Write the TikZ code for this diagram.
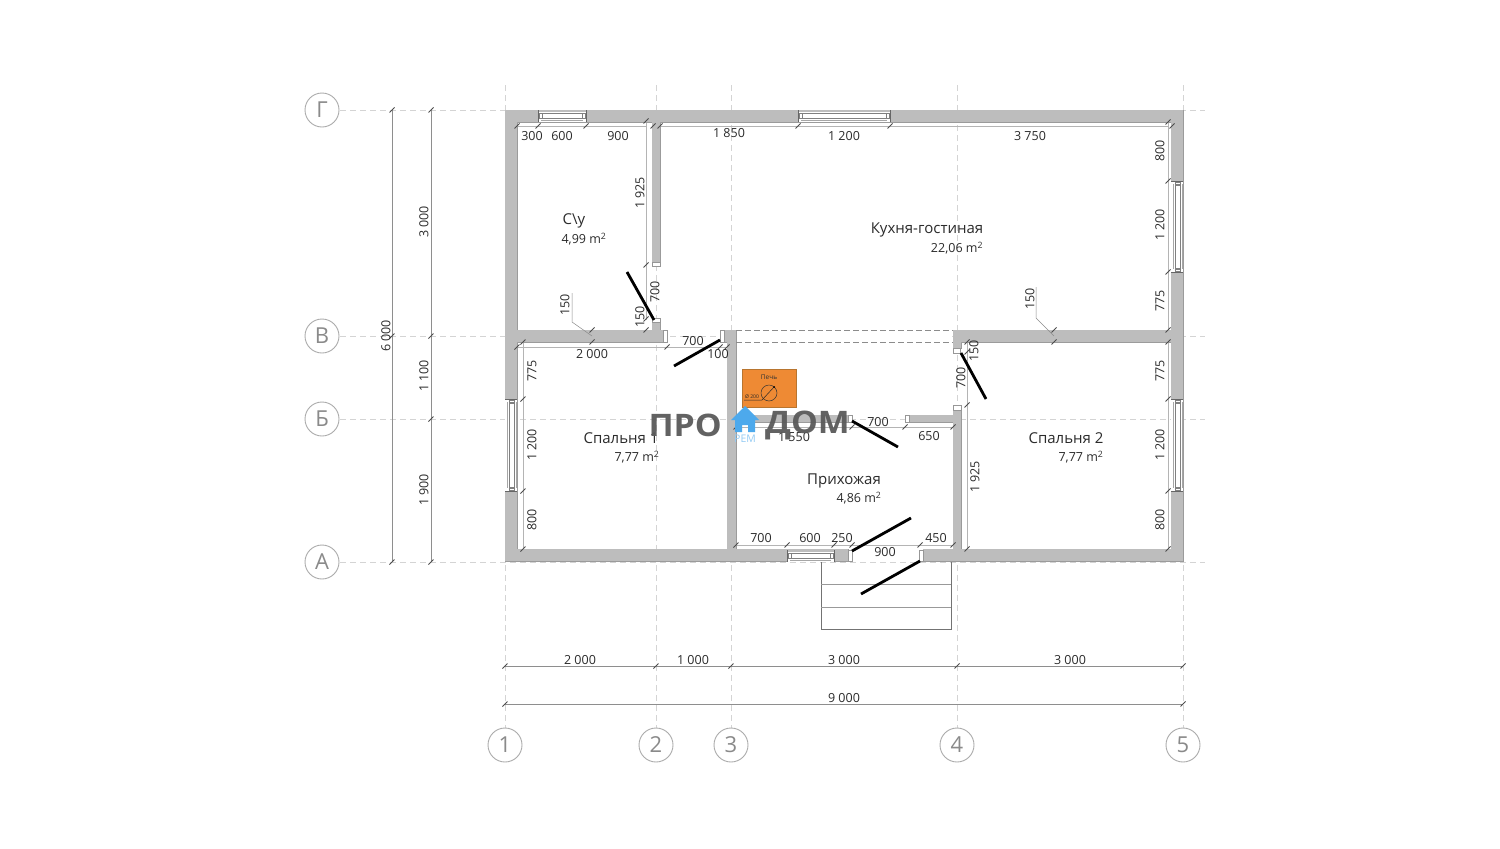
\documentclass[tikz,border=0pt]{standalone}
\usepackage{fontspec}
\setmainfont{Open Sans}
\definecolor{wallc}{HTML}{BDBDBD}
\definecolor{edgec}{HTML}{979797}
\definecolor{axisc}{HTML}{D4D4D4}
\definecolor{bubc}{HTML}{ABABAB}
\definecolor{bubt}{HTML}{8A8A8A}
\definecolor{dimc}{HTML}{8E8E8E}
\definecolor{indim}{HTML}{B4B4B4}
\definecolor{txt}{HTML}{2B2B2B}
\definecolor{ovenfill}{RGB}{238,138,52}
\definecolor{ovenedge}{RGB}{184,117,47}
\definecolor{wmgray}{HTML}{5A5A5A}
\definecolor{wmblue}{HTML}{4DA9EC}
\newcounter{nn}
\tikzset{
  axisline/.style={draw=axisc,line width=.7pt,dash pattern=on 6pt off 4pt},
  bubble/.style={circle,draw=bubc,line width=.9pt,minimum size=34pt,inner sep=0pt,text=bubt,font=\fontsize{22}{22}\selectfont},
  dimline/.style={draw=dimc,line width=.8pt},
  indimline/.style={draw=indim,line width=.8pt},
  tickmark/.style={draw=black!70,line width=.8pt},
  doorleaf/.style={draw=black,line width=2.8pt},
  dimtext/.style={text=txt,inner sep=0pt,font=\fontsize{12.5}{13}\selectfont},
  roomname/.style={text=txt,inner sep=0pt,font=\fontsize{15}{16}\selectfont},
  roomarea/.style={text=txt,inner sep=0pt,font=\fontsize{12.5}{13}\selectfont},
  jamb/.style={fill=white,draw=edgec,line width=.6pt},
  leader/.style={draw=black!45,line width=.5pt},
  winframe/.style={draw=black!50,line width=.6pt,fill=white},
  wmtext/.style={text=wmgray,inner sep=0pt,opacity=.95,xscale=1.09,font=\fontsize{31}{31}\selectfont\bfseries},
}
\newcommand{\tk}[2]{\draw[tickmark] (#1-2.5,#2+2.5) -- (#1+2.5,#2-2.5);}
\newcommand{\lbl}[3]{\stepcounter{nn}\node[dimtext,name=d\arabic{nn}] at (#1,#2) {#3};}
\newcommand{\lblr}[3]{\stepcounter{nn}\node[dimtext,rotate=90,name=d\arabic{nn}] at (#1,#2) {#3};}
\newcommand{\room}[3]{\stepcounter{nn}\node[roomname,name=d\arabic{nn}] at (#1,#2+1.5) {#3};}
\newcommand{\area}[3]{\stepcounter{nn}\node[roomarea,name=d\arabic{nn}] at (#1,#2+1) {#3 m\textsuperscript{2}};}
\newcommand{\winh}[3]{
  \fill[white] (#1,#3) rectangle (#2,#3+12);
  \fill[wallc] (#1,#3) rectangle (#2,#3+2);
  \draw[winframe] (#1+4,#3+3) rectangle (#2-4,#3+8);
  \draw[draw=black!35,line width=.5pt] (#1+3,#3+10) -- (#2-3,#3+10);
  \draw[draw=black!60,line width=1pt] (#1,#3) -- (#1,#3+12) (#2,#3) -- (#2,#3+12);
  \draw[draw=black!50,line width=.5pt] (#1+1,#3+3) rectangle (#1+4,#3+8) (#2-4,#3+3) rectangle (#2-1,#3+8);
}
\newcommand{\winv}[3]{
  \fill[white] (#1,#2) rectangle (#1+12,#3);
  \draw[winframe] (#1+4,#2+3) rectangle (#1+9,#3-3);
  \draw[draw=black!35,line width=.5pt] (#1+2,#2+3) -- (#1+2,#3-3) (#1+11,#2+3) -- (#1+11,#3-3);
  \draw[draw=black!60,line width=1pt] (#1,#2) -- (#1+12,#2) (#1,#3) -- (#1+12,#3);
  \draw[draw=black!50,line width=.5pt] (#1+4,#2+1) rectangle (#1+9,#2+4) (#1+4,#3-4) rectangle (#1+9,#3-1);
}
\newcommand{\wallshape}{
  (505,110) rectangle (1183,122)
  (505,110) rectangle (517,561)
  (1171,110) rectangle (1183,561)
  (505,549) rectangle (848,561)
  (923,549) rectangle (1183,561)
  (517,330) rectangle (663,342)
  (652,322) rectangle (660,331)
  (652,122) rectangle (660,262)
  (724,330) rectangle (736,342)
  (727,330) rectangle (736,549)
  (953,330) rectangle (1171,342)
  (953,330) rectangle (961,348)
  (953,410) rectangle (961,549)
  (736,415) rectangle (848,422)
  (909,415) rectangle (953,422)
}
\begin{document}
\begin{tikzpicture}[x=1pt,y=-1pt]
\useasboundingbox[fill=white] (0,0) rectangle (1500,849);
\foreach \x in {505,656,731,957,1183} \draw[axisline] (\x,85) -- (\x,728);
\foreach \y in {110,336,419,562} \draw[axisline] (340,\y) -- (1205,\y);
\node[bubble] (gG) at (322,110) {Г};
\node[bubble] (gV) at (322,336) {В};
\node[bubble] (gB) at (322,419) {Б};
\node[bubble] (gA) at (322,562) {А};
\node[bubble] (g1) at (505,745) {1};
\node[bubble] (g2) at (656,745) {2};
\node[bubble] (g3) at (731,745) {3};
\node[bubble] (g4) at (957,745) {4};
\node[bubble] (g5) at (1183,745) {5};
\draw[draw=black!55,line width=.7pt] (821,561) -- (821,629) -- (951,629) -- (951,561);
\draw[draw=black!40,line width=.6pt] (821,584) -- (951,584) (821,607) -- (951,607);
\draw[indimline] (517,126) -- (646,126) (660,126) -- (1168,126);
\draw[indimline] (646,122) -- (646,320);
\draw[indimline] (1168,122) -- (1168,330) (1168,342) -- (1168,549);
\draw[indimline] (523,342) -- (523,549);
\draw[indimline] (517,347) -- (727,347);
\draw[indimline] (736,545) -- (953,545);
\draw[indimline] (736,427) -- (953,427);
\draw[indimline] (967,342) -- (967,549);
\path[draw=edgec,line width=.8pt] \wallshape;
\path[fill=wallc] \wallshape;
\fill[white] (737,331) rectangle (952,341);
\draw[draw=black!45,line width=.7pt,dash pattern=on 6pt off 3pt] (736,330) -- (953,330) (736,342) -- (953,342);
\foreach \pa/\pb/\pc/\pd in {663/330/667/342, 720/330/724/342, 652/318/660/322, 652/262/660/266, 953/348/960/353, 953/405/961/410, 848/415/852/422, 905/415/909/422, 848/550/852/561, 919/550/923/561}
  \draw[jamb] (\pa,\pb) rectangle (\pc,\pd);
\winh{538}{586}{110}
\winh{798}{890}{110}
\winh{787}{834}{550}
\winv{505}{399}{491}
\winv{1171}{181}{272}
\winv{1171}{399}{491}
\coordinate (da1) at (627,272); \coordinate (da2) at (654,320);
\coordinate (db1) at (720,340); \coordinate (db2) at (674,366);
\coordinate (dc1) at (961,353); \coordinate (dc2) at (986,399);
\coordinate (dd1) at (852,421); \coordinate (dd2) at (898,447);
\coordinate (de1) at (852,551); \coordinate (de2) at (911,518);
\coordinate (df1) at (920,561); \coordinate (df2) at (861,594);
\foreach \q in {a,b,c,d,e,f} \draw[doorleaf] (d\q1) -- (d\q2);
\draw[leader] (572,293) -- (572,322) -- (592,336);
\draw[leader] (1036,287) -- (1036,318) -- (1054,336);
\draw[dimline] (392,110) -- (392,562);
\draw[dimline] (431,110) -- (431,562);
\draw[dimline] (505,666) -- (1183,666);
\draw[dimline] (505,704) -- (1183,704);
\foreach \y in {110,336,562} {\tk{392}{\y}}
\foreach \y in {110,336,419,562} {\tk{431}{\y}}
\foreach \x in {505,656,731,957,1183} {\tk{\x}{666}}
\foreach \x in {505,1183} {\tk{\x}{704}}
\foreach \x in {517,538,586,653,660,798,890,1172} {\tk{\x}{126}}
\foreach \y in {121,265,319} {\tk{646}{\y}}
\foreach \y in {122,181,272,330,342,399,491,549} {\tk{1168}{\y}}
\foreach \y in {342,399,491,549} {\tk{523}{\y}}
\foreach \x in {517,667,720,727} {\tk{\x}{347}}
\foreach \x in {736,787,834,852,920,953} {\tk{\x}{545}}
\foreach \x in {736,852,905,953} {\tk{\x}{427}}
\foreach \y in {342,352,405,549} {\tk{967}{\y}}
\tk{592}{330}\tk{592}{342}\tk{1054}{330}\tk{1054}{342}\tk{646}{330}
\node[draw=ovenedge,fill=ovenfill,line width=.6pt,minimum width=54pt,minimum height=38pt,inner sep=0pt] (stv) at (769,388) {};
\node[text=black!80,inner sep=0pt,font=\fontsize{6.5}{7}\selectfont] (stvt) at (769,377) {Печь};
\node[draw=black!80,circle,line width=.5pt,minimum size=16pt,inner sep=0pt] (flue) at (769,393) {};
\draw[draw=black!85,line width=.5pt] (744,400) -- (762,400) -- (774,387);
\fill[black] (774,387) circle (1pt);
\node[text=black!85,inner sep=0pt,font=\fontsize{5}{6}\selectfont] (stvd) at (752,397) {Ø 200};
\lbl{532}{136}{300}\lbl{562}{136}{600}\lbl{618}{136}{900}
\lbl{729}{133}{1 850}\lbl{844}{136}{1 200}\lbl{1030}{136}{3 750}
\lblr{640}{193}{1 925}\lblr{655}{292}{700}\lblr{640}{317}{150}\lblr{565}{305}{150}
\lblr{1030}{299}{150}
\lblr{1160}{151}{800}\lblr{1160}{225}{1 200}\lblr{1160}{301}{775}
\lblr{1160}{371}{775}\lblr{1160}{445}{1 200}\lblr{1160}{520}{800}
\lblr{532}{371}{775}\lblr{532}{445}{1 200}\lblr{532}{520}{800}
\lbl{592}{354}{2 000}\lbl{693}{341}{700}\lbl{718}{354}{100}
\lbl{794}{437}{1 550}\lbl{878}{422}{700}\lbl{929}{436}{650}
\lblr{974}{351}{150}\lblr{961}{378}{700}\lblr{975}{477}{1 925}
\lbl{761}{538}{700}\lbl{810}{538}{600}\lbl{842}{538}{250}\lbl{885}{552}{900}\lbl{936}{538}{450}
\lbl{580}{660}{2 000}\lbl{693}{660}{1 000}\lbl{844}{660}{3 000}\lbl{1070}{660}{3 000}\lbl{844}{698}{9 000}
\lblr{386}{336}{6 000}\lblr{424}{222}{3 000}\lblr{424}{376}{1 100}\lblr{424}{490}{1 900}
\room{574}{219}{С\textbackslash у}\area{584}{238}{4,99}
\room{927}{228}{Кухня-гостиная}\area{957}{247}{22,06}
\room{621}{437}{Спальня 1}\area{637}{456}{7,77}
\room{1066}{437}{Спальня 2}\area{1081}{456}{7,77}
\room{844}{479}{Прихожая}\area{859}{497}{4,86}
\node[wmtext,anchor=east] (wm1) at (722,425.5) {ПРО};
\node[wmtext,anchor=west] (wm2) at (765,425.5) {ДОМ};
\fill[wmblue] (745,406) -- (759,420) -- (755,420) -- (755,432) -- (748,432) -- (748,425) -- (742,425) -- (742,432) -- (735,432) -- (735,420) -- (731,420) -- cycle;
\node[text=wmblue!60,inner sep=0pt,font=\fontsize{10.5}{10.5}\selectfont] (wm3) at (745,439) {РЕМ};
\end{tikzpicture}
\end{document}
